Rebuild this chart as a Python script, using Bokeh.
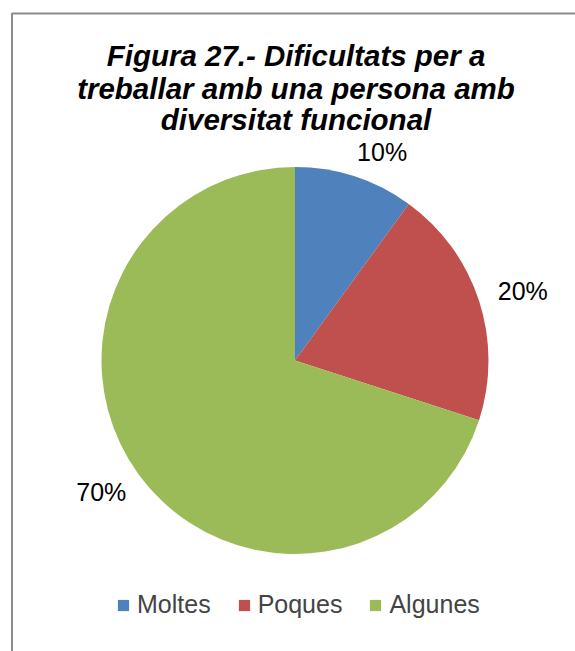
import math
from bokeh.plotting import figure
from bokeh.models import ColumnDataSource, Range1d, Legend, LegendItem
from bokeh.core.properties import value
from bokeh.embed import file_html
from bokeh.resources import INLINE

# ---- data ----
categories = ["Moltes", "Poques", "Algunes"]
shares = [10, 20, 70]
colors = ["#4F81BD", "#C0504D", "#9BBB59"]
title_lines = ["Figura 27.- Dificultats per a",
               "treballar amb una persona amb",
               "diversitat funcional"]

FONT = "Liberation Sans"
W, H = 575, 651
cx, cy, r = 294.5, 291.0, 193.5
label_top_limit = 499.5   # labels are kept below the title area

total = float(sum(shares))
starts, ends, lx, ly, labels = [], [], [], [], []
acc = 0.0
for s in shares:
    a0 = math.pi / 2 - 2 * math.pi * acc / total
    acc += s
    a1 = math.pi / 2 - 2 * math.pi * acc / total
    starts.append(a1)
    ends.append(a0)
    mid = (a0 + a1) / 2
    R = r + 21
    # label box placed adjacent to the anchor on the outer side
    x = cx + R * math.cos(mid) + 25 * math.cos(mid)
    y = cy + R * math.sin(mid) + 10 * math.sin(mid)
    if y > label_top_limit:
        # slide along the same ring until it fits under the title
        d = math.hypot(x - cx, y - cy)
        y = label_top_limit
        x = cx + math.copysign(math.sqrt(d * d - (y - cy) ** 2), math.cos(mid))
    lx.append(x)
    ly.append(y)
    labels.append(f"{s / total * 100:.0f}%")

src = ColumnDataSource(dict(cat=categories, val=shares, start=starts, end=ends,
                            color=colors))
lab = ColumnDataSource(dict(x=lx, y=ly, text=labels))

p = figure(width=W, height=H, output_backend="svg", toolbar_location=None,
           x_range=Range1d(0, W), y_range=Range1d(0, H), min_border=0,
           outline_line_color=None)
p.axis.visible = False
p.grid.visible = False
p.background_fill_color = "white"
p.border_fill_color = "white"

# chart frame (decorative border, partially outside the window)
p.line([11.5, 11.5, W + 20], [-20, 638, 638], line_color="#8C8C8C", line_width=2)

wr = p.wedge(x=cx, y=cy, radius=r, start_angle="start", end_angle="end",
             fill_color="color", line_color=None, source=src)

p.text(x="x", y="y", text="text", source=lab, text_font=value(FONT),
       text_font_size="25px", text_color="black", text_align="center",
       text_baseline="middle")

ty = [596, 563, 532]
p.text(x=[295.5] * 3, y=ty, text=title_lines, text_font=value(FONT),
       text_font_size="29.5px", text_font_style="bold italic",
       text_color="black", text_align="center", text_baseline="middle")

items = [LegendItem(label=c, renderers=[wr], index=i) for i, c in enumerate(categories)]
legend = Legend(items=items, orientation="horizontal", location=(116, 32),
                label_text_font=FONT, label_text_font_size="25px",
                glyph_width=14, glyph_height=14, label_standoff=7, spacing=26,
                padding=0, margin=0, border_line_alpha=0, background_fill_alpha=0)
p.add_layout(legend)

open("out.html", "w").write(file_html(p, INLINE))
